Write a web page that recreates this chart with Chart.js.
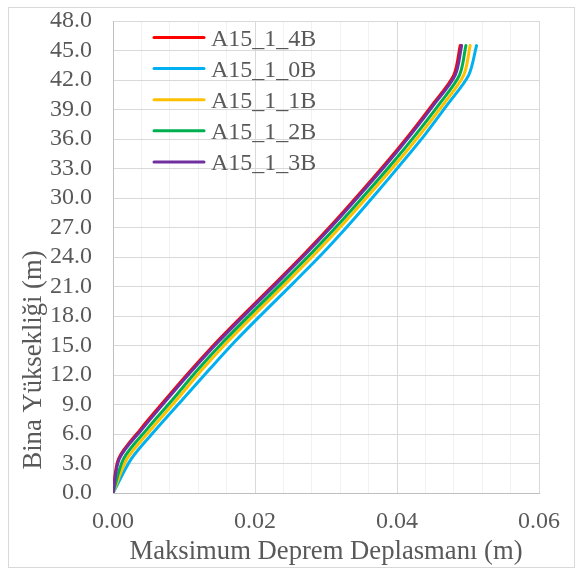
<!DOCTYPE html>
<html>
<head>
<meta charset="utf-8">
<script src="https://cdn.jsdelivr.net/npm/chart.js@4.4.1/dist/chart.umd.min.js"></script>
<style>
  html, body { margin: 0; padding: 0; background: #ffffff; }
  #wrap { width: 577px; height: 574px; position: relative; }
</style>
</head>
<body>
<div id="wrap"><canvas id="c" width="577" height="574"></canvas></div>
<script>
// ---- data ----
const heights = [0, 3.5, 6.5, 9.5, 12.5, 15.5, 18.5, 21.5, 24.5, 27.5, 30.5, 33.5, 36.5, 39.5, 42.5, 45.5];
const seriesNames = ['A15_1_4B', 'A15_1_0B', 'A15_1_1B', 'A15_1_2B', 'A15_1_3B'];
const disp_4B = [0, 0.0008, 0.0039, 0.0074, 0.0110, 0.0148, 0.0189, 0.0231, 0.0272, 0.0311, 0.0348, 0.0384, 0.0418, 0.0450, 0.0480, 0.0489];
const disp_0B = [0, 0.0026, 0.0061, 0.0098, 0.0135, 0.0173, 0.0214, 0.0256, 0.0297, 0.0335, 0.0371, 0.0406, 0.0440, 0.0471, 0.0501, 0.0512];
const disp_1B = [0, 0.0020, 0.0054, 0.0090, 0.0125, 0.0163, 0.0204, 0.0246, 0.0287, 0.0326, 0.0363, 0.0399, 0.0433, 0.0465, 0.0494, 0.0503];
const disp_2B = [0, 0.0015, 0.0048, 0.0084, 0.0119, 0.0157, 0.0198, 0.0240, 0.0281, 0.0320, 0.0357, 0.0393, 0.0427, 0.0459, 0.0488, 0.0497];
const disp_3B = [0, 0.0009, 0.0041, 0.0076, 0.0112, 0.0150, 0.0191, 0.0233, 0.0274, 0.0313, 0.0350, 0.0386, 0.0420, 0.0452, 0.0482, 0.0491];
const xTickLabels = ['0.00', '0.02', '0.04', '0.06'];
const xMinorTicks = [0, 0.004, 0.008, 0.012, 0.016, 0.02, 0.024, 0.028, 0.032, 0.036, 0.04, 0.044, 0.048, 0.052, 0.056, 0.06];
const yTickLabels = ['0.0', '3.0', '6.0', '9.0', '12.0', '15.0', '18.0', '21.0', '24.0', '27.0', '30.0', '33.0', '36.0', '39.0', '42.0', '45.0', '48.0'];
const xTitle = 'Maksimum Deprem Deplasmanı (m)';
const yTitle = 'Bina Yüksekliği (m)';

const allSeries = [disp_4B, disp_0B, disp_1B, disp_2B, disp_3B];
const colors = ['#FF0000', '#00B0F0', '#FFC000', '#00B050', '#7030A0'];
const drawOrder = [5, 4, 3, 2, 1];
const FONT = '"Liberation Serif", "Times New Roman", serif';
const TXT = '#595959';

const xMajorVals = xTickLabels.map(Number);
const isMajorX = v => xMajorVals.some(m => Math.abs(m - v) < 1e-9);

const datasets = allSeries.map((s, i) => ({
  label: seriesNames[i],
  data: s.map((v, k) => ({ x: v, y: heights[k] })),
  borderColor: colors[i],
  backgroundColor: colors[i],
  borderWidth: 3,
  pointRadius: 0,
  showLine: true,
  fill: false,
  tension: 0.3,
  cubicInterpolationMode: 'default',
  borderCapStyle: 'round',
  borderJoinStyle: 'round',
  order: drawOrder[i]
}));

const framePlugin = {
  id: 'frame',
  beforeDraw(chart) {
    const ctx = chart.ctx;
    ctx.save();
    ctx.fillStyle = '#ffffff';
    ctx.fillRect(0, 0, chart.width, chart.height);
    ctx.strokeStyle = '#D9D9D9';
    ctx.lineWidth = 1;
    ctx.strokeRect(8.5, 7.5, 566, 560);
    ctx.restore();
  },
  afterDraw(chart) {
    const ctx = chart.ctx;
    const area = chart.chartArea;
    ctx.save();
    ctx.fillStyle = TXT;
    ctx.font = '26.67px ' + FONT;
    ctx.textAlign = 'center';
    ctx.textBaseline = 'alphabetic';
    ctx.fillText(xTitle, (area.left + area.right) / 2, 559);
    ctx.translate(41, 360);
    ctx.rotate(-Math.PI / 2);
    ctx.fillText(yTitle, 0, 0);
    ctx.restore();

    ctx.save();
    ctx.font = '24px ' + FONT;
    ctx.textAlign = 'left';
    ctx.textBaseline = 'alphabetic';
    chart.data.datasets.forEach((ds, i) => {
      const y = 37.5 + i * 31.1;
      ctx.strokeStyle = ds.borderColor;
      ctx.lineWidth = 3;
      ctx.lineCap = 'round';
      ctx.beginPath();
      ctx.moveTo(154, y);
      ctx.lineTo(204, y);
      ctx.stroke();
      ctx.fillStyle = TXT;
      ctx.fillText(ds.label, 211, y + 8.5);
    });
    ctx.restore();
  }
};

new Chart(document.getElementById('c'), {
  type: 'scatter',
  data: { datasets },
  options: {
    responsive: false,
    animation: false,
    devicePixelRatio: 1,
    layout: { padding: { left: 0, right: 38, top: 21, bottom: 0 } },
    plugins: { legend: { display: false }, tooltip: { enabled: false }, title: { display: false } },
    scales: {
      x: {
        type: 'linear',
        min: 0,
        max: 0.06,
        afterBuildTicks: s => { s.ticks = xMinorTicks.map(v => ({ value: v })); },
        afterFit: s => { s.height = 81; s.paddingLeft = 0; s.paddingRight = 0; },
        ticks: {
          autoSkip: false,
          maxRotation: 0,
          padding: 14,
          color: TXT,
          font: { family: FONT, size: 24 },
          callback: v => {
            const idx = xMajorVals.findIndex(m => Math.abs(m - v) < 1e-9);
            return idx >= 0 ? xTickLabels[idx] : '';
          }
        },
        grid: {
          drawTicks: false,
          color: c => (c.tick && isMajorX(c.tick.value)) ? '#D9D9D9' : '#F2F2F2',
          lineWidth: 1
        },
        border: { display: true, color: '#BFBFBF', width: 1 }
      },
      y: {
        type: 'linear',
        min: 0,
        max: 48,
        afterBuildTicks: s => { s.ticks = yTickLabels.map(t => ({ value: Number(t) })); },
        afterFit: s => { s.width = 113; s.paddingTop = 0; s.paddingBottom = 0; },
        ticks: {
          autoSkip: false,
          padding: 21,
          color: TXT,
          font: { family: FONT, size: 24 },
          callback: v => {
            const idx = yTickLabels.findIndex(t => Math.abs(Number(t) - v) < 1e-9);
            return idx >= 0 ? yTickLabels[idx] : '';
          }
        },
        grid: { drawTicks: false, color: '#D9D9D9', lineWidth: 1 },
        border: { display: true, color: '#BFBFBF', width: 1 }
      }
    }
  },
  plugins: [framePlugin]
});
</script>
</body>
</html>
